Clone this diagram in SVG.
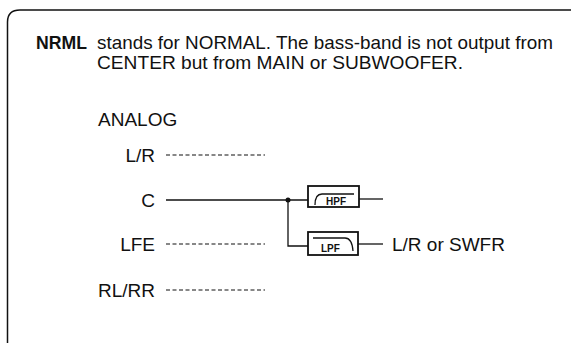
<svg xmlns="http://www.w3.org/2000/svg" width="571" height="343" viewBox="0 0 571 343">
<style>
  text { font-family: "Liberation Sans", Arial, sans-serif; fill: #111; }
  .t { font-size: 19px; }
  .lbl { font-size: 19px; }
  .small { font-size: 10px; font-weight: bold; }
  .line { stroke: #111; stroke-width: 1.3; fill: none; }
  .dash { stroke: #111; stroke-width: 1.2; stroke-dasharray: 4 2.5; fill: none; }
  .box { stroke: #111; stroke-width: 1.8; fill: #fff; }
</style>
<rect width="571" height="343" fill="#fff"/>
<path d="M7.5 343 V22 Q7.5 10 20 10 H571" fill="none" stroke="#111" stroke-width="1.5"/>
<g id="header">
  <text x="36" y="49" class="t" font-weight="bold" textLength="51" lengthAdjust="spacingAndGlyphs">NRML</text>
  <text x="97" y="49" class="t" textLength="456" lengthAdjust="spacingAndGlyphs">stands for NORMAL. The bass-band is not output from</text>
  <text x="97" y="69" class="t" textLength="366" lengthAdjust="spacingAndGlyphs">CENTER but from MAIN or SUBWOOFER.</text>
</g>
<g id="analog"><text x="98" y="126" class="lbl">ANALOG</text></g>
<g id="lr"><text x="155" y="162" class="lbl" text-anchor="end">L/R</text></g>
<g id="c"><text x="155" y="207" class="lbl" text-anchor="end">C</text></g>
<g id="lfe"><text x="155" y="251" class="lbl" text-anchor="end">LFE</text></g>
<g id="rlrr"><text x="155" y="297" class="lbl" text-anchor="end">RL/RR</text></g>
<g id="hpf">
  <rect x="308" y="186" width="51" height="21" class="box"/>
  <path d="M315 205 Q315 194 322 194 H354" class="line" stroke-width="1.2"/>
  <text x="326" y="205" class="small">HPF</text>
</g>
<g id="lpf">
  <rect x="308" y="232" width="50" height="23" class="box"/>
  <path d="M313 238 H345 Q352 238 353 251" class="line" stroke-width="1.2"/>
  <text x="321" y="252" class="small">LPF</text>
</g>
<g id="out"><text x="392" y="251" class="lbl">L/R or SWFR</text></g>
<g id="connectors">
  <line x1="166" y1="155" x2="265" y2="155" class="dash"/>
  <line x1="166" y1="244" x2="265" y2="244" class="dash"/>
  <line x1="166" y1="290" x2="265" y2="290" class="dash"/>
  <line x1="166" y1="200" x2="308" y2="200" class="line"/>
  <path d="M288 200 V246 H308" class="line"/>
  <circle cx="288" cy="200" r="2.5" fill="#111"/>
  <line x1="359" y1="199" x2="383" y2="199" class="line"/>
  <line x1="358" y1="244" x2="383" y2="244" class="line"/>
</g>
</svg>
